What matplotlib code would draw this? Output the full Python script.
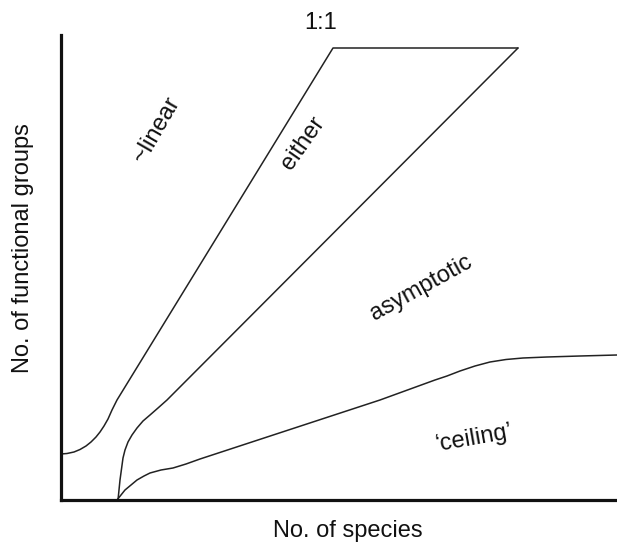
import numpy as np
import matplotlib
matplotlib.use('Agg')
import matplotlib.pyplot as plt

plt.rcParams['font.family'] = ['Liberation Sans', 'DejaVu Sans']

# boundary curves (x: species, y: functional groups)
linear_x = [0, 6, 13, 19, 25, 30, 35, 39, 43, 47, 51, 56, 272, 457]
linear_y = [46, 46.5, 48, 50.5, 54, 58, 63, 68, 74, 81, 90, 100, 452, 452]

either_x = [57, 58, 59, 60.5, 62, 64, 67, 71, 76, 82, 89, 97, 106, 457]
either_y = [0, 10, 20, 31, 42, 50, 58, 65, 72, 79, 85, 92, 100, 452]

ceiling_x = [56, 60, 64, 70, 76, 83, 89, 100, 112, 125, 139, 319, 352, 374,
             386, 399, 414, 429, 445, 462, 486, 519, 556]
ceiling_y = [0, 5, 10, 15, 20, 24, 27, 30, 32, 36, 41, 100, 112, 120,
             124, 129, 134, 138, 140.5, 142, 143, 144, 145]

regions = ['~linear', 'either', 'asymptotic', '\u2018ceiling\u2019']
region_x = [96, 242, 360, 413]
region_y = [370, 357, 212, 62]
region_rot = [60, 55, 29, 10]


def main():
    W, H = 617, 543
    fig = plt.figure(figsize=(W / 100, H / 100), dpi=100)
    x0, x1, ytop, ybot = 61, 617, 35, 500
    ax = fig.add_axes([x0 / W, 1 - ybot / H, (x1 - x0) / W, (ybot - ytop) / H])
    ax.set_xlim(0, x1 - x0)
    ax.set_ylim(0, ybot - ytop)

    for s in ['top', 'right']:
        ax.spines[s].set_visible(False)
    for s in ['left', 'bottom']:
        ax.spines[s].set_linewidth(2.3)
        ax.spines[s].set_color('#111111')
    ax.set_xticks([])
    ax.set_yticks([])

    kw = dict(color='#222222', lw=1.1, solid_capstyle='round',
              solid_joinstyle='round', clip_on=False)
    ax.plot(linear_x, linear_y, **kw)
    ax.plot(either_x, either_y, **kw)
    ax.plot(ceiling_x, ceiling_y, **kw)

    ax.text(260, 477, '1:1', fontsize=17, ha='center', va='center',
            color='#111111', clip_on=False)
    for label, x, y, r in zip(regions, region_x, region_y, region_rot):
        ax.text(x, y, label, rotation=r, fontsize=17, ha='center',
                va='center', rotation_mode='anchor', color='#111111')

    fig.text(348 / W, 1 - 531 / H, 'No. of species', fontsize=17,
             ha='center', va='center', color='#111111')
    fig.text(23 / W, 1 - 248 / H, 'No. of functional groups', fontsize=17,
             ha='center', va='center', rotation=90, color='#111111')

    fig.savefig('out.png', dpi=100)


if __name__ == '__main__':
    main()
